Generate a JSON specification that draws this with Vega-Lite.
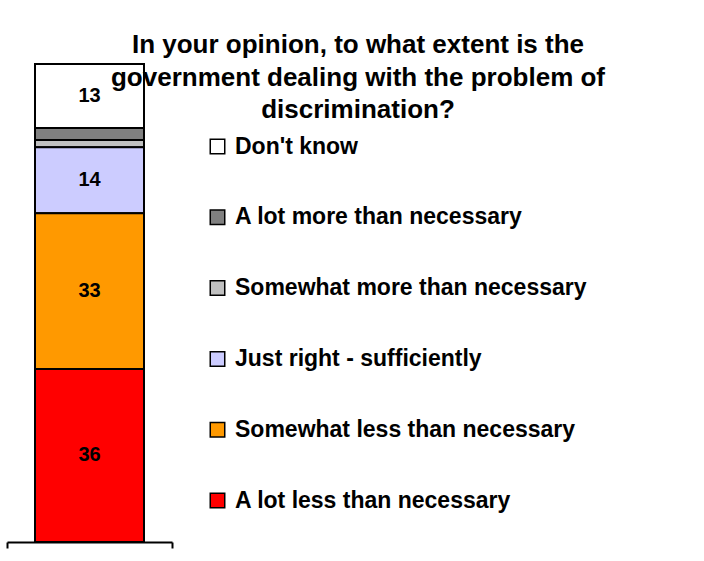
{
  "$schema": "https://vega.github.io/schema/vega-lite/v6.json",
  "autosize": {"type": "none"},
  "width": 165,
  "height": 478,
  "padding": {"left": 7, "top": 64, "right": 532, "bottom": 19},
  "background": "white",
  "config": {
    "font": "Liberation Sans",
    "view": {"stroke": null}
  },
  "title": {
    "text": ["In your opinion, to what extent is the", "government dealing with the problem of", "discrimination?"],
    "anchor": "middle",
    "orient": "top",
    "offset": 0,
    "dx": 268.5,
    "dy": 81,
    "baseline": "alphabetic",
    "fontSize": 26,
    "fontWeight": "bold",
    "color": "black",
    "lineHeight": 32.5
  },
  "data": {
    "values": [
      {"group": "Q", "answer": "Don't know", "idx": 1, "value": 13.4},
      {"group": "Q", "answer": "A lot more than necessary", "idx": 2, "value": 2.5},
      {"group": "Q", "answer": "Somewhat more than necessary", "idx": 3, "value": 1.5},
      {"group": "Q", "answer": "Just right - sufficiently", "idx": 4, "value": 13.8},
      {"group": "Q", "answer": "Somewhat less than necessary", "idx": 5, "value": 32.6},
      {"group": "Q", "answer": "A lot less than necessary", "idx": 6, "value": 36.2}
    ]
  },
  "encoding": {
    "x": {
      "field": "group",
      "type": "nominal",
      "scale": {"paddingInner": 0, "paddingOuter": 0},
      "axis": {
        "title": null,
        "labels": false,
        "domain": true,
        "domainColor": "black",
        "domainWidth": 2,
        "ticks": true,
        "tickBand": "extent",
        "tickColor": "black",
        "tickWidth": 2,
        "tickSize": 6
      }
    },
    "y": {
      "field": "value",
      "type": "quantitative",
      "stack": "zero",
      "scale": {"domain": [0, 100], "nice": false, "zero": true},
      "axis": null
    },
    "order": {"field": "idx", "type": "quantitative", "sort": "descending"}
  },
  "layer": [
    {
      "mark": {"type": "bar", "width": {"band": 0.6606}, "stroke": "black", "strokeWidth": 2, "opacity": 1},
      "encoding": {
        "color": {
          "field": "answer",
          "type": "nominal",
          "scale": {
            "domain": ["Don't know", "A lot more than necessary", "Somewhat more than necessary", "Just right - sufficiently", "Somewhat less than necessary", "A lot less than necessary"],
            "range": ["#FFFFFF", "#808080", "#C0C0C0", "#CCCCFF", "#FF9900", "#FF0000"]
          },
          "legend": {
            "title": null,
            "orient": "none",
            "legendX": 199,
            "legendY": 71,
            "padding": 0,
            "symbolType": "square",
            "symbolSize": 210,
            "symbolStrokeColor": "black",
            "symbolStrokeWidth": 1.5,
            "symbolOpacity": 1,
            "labelFont": "Liberation Sans",
            "labelFontSize": 23,
            "labelFontWeight": "bold",
            "labelColor": "black",
            "labelOffset": 6,
            "labelLimit": 500,
            "rowPadding": 46.8
          }
        }
      }
    },
    {
      "mark": {"type": "text", "fontSize": 20, "fontWeight": "bold", "color": "black", "baseline": "middle"},
      "encoding": {
        "y": {"field": "value", "type": "quantitative", "stack": "zero", "bandPosition": 0.5},
        "text": {"condition": {"test": "datum.value >= 5", "field": "value", "type": "quantitative", "format": ".0f"}, "value": ""}
      }
    }
  ]
}
